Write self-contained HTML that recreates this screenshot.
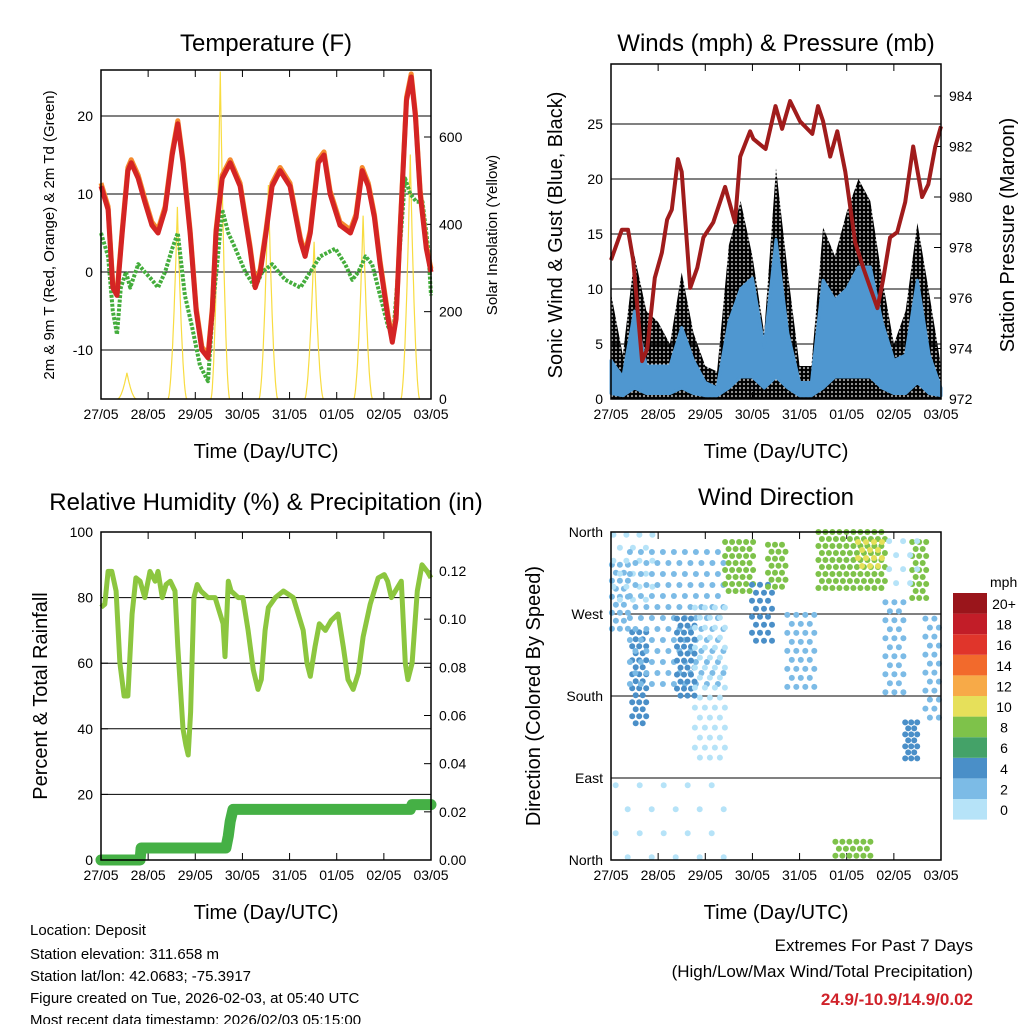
<!DOCTYPE html>
<html><head><meta charset="utf-8"><style>
body{margin:0;background:#fff;font-family:"Liberation Sans",sans-serif}
svg text{font-family:"Liberation Sans",sans-serif;fill:#000}
</style></head><body>
<svg id="s" width="1024" height="1024" xmlns="http://www.w3.org/2000/svg">
<defs><pattern id="dots" width="4" height="4" patternUnits="userSpaceOnUse"><circle cx="2" cy="2" r="2.1" fill="#000"/></pattern></defs>
<g id="p1"></g>
<g id="p2"></g>
<g id="p3"></g>
<g id="p4"></g>
<g font-size="15">
<text x="30" y="935">Location: Deposit</text>
<text x="30" y="959">Station elevation: 311.658 m</text>
<text x="30" y="981">Station lat/lon: 42.0683; -75.3917</text>
<text x="30" y="1003">Figure created on Tue, 2026-02-03, at 05:40 UTC</text>
<text x="30" y="1025">Most recent data timestamp: 2026/02/03 05:15:00</text>
</g>
<g text-anchor="end">
<text x="973" y="951" font-size="17">Extremes For Past 7 Days</text>
<text x="973" y="977" font-size="17">(High/Low/Max Wind/Total Precipitation)</text>
<text x="973" y="1005" font-size="17" font-weight="bold" style="fill:#d0222a">24.9/-10.9/14.9/0.02</text>
</g>
</svg>
<script>
// ---- data ----
const dayLabels=["27/05","28/05","29/05","30/05","31/05","01/05","02/05","03/05"];
const tempDays=[0,.15,.25,.34,.45,.57,.64,.79,.93,1.08,1.21,1.36,1.51,1.63,1.74,1.89,2.02,2.14,2.27,2.36,2.44,2.57,2.74,2.95,3.16,3.27,3.38,3.5,3.63,3.8,4.01,4.23,4.33,4.44,4.61,4.73,4.86,5.07,5.29,5.41,5.54,5.67,5.8,5.92,6.09,6.18,6.26,6.35,6.48,6.58,6.67,6.77,6.9,7];
const tempValues=[11,8,-2,-3,5,13,14,12,9,6,5,8,15,19,14,5,-5,-10,-11,-5,5,12,14,11,3,-2,0,5,11,13,11,4,2,5,14,15,10,6,5,7,13,11,7,1,-6,-9,-6,6,22,25,20,10,3,0];
const dewDays=[0,.15,.25,.34,.42,.53,.62,.79,.93,1.08,1.21,1.36,1.51,1.63,1.78,1.93,2.1,2.27,2.38,2.48,2.57,2.7,2.85,3.06,3.27,3.42,3.63,3.91,4.23,4.44,4.65,4.97,5.18,5.33,5.46,5.61,5.75,5.92,6.09,6.2,6.3,6.45,6.56,6.69,6.82,6.94,7];
const dewValues=[5,2,-5,-8,-2,0,-2,1,0,-1,-2,0,3,5,-3,-7,-12,-14,-4,2,8,5,3,0,-2,0,1,-1,-2,0,2,3,1,-1,0,2,1,-3,-7,-8,0,12,10,9,9,3,-3];
const solarNoon=[0.55,1.62,2.53,3.55,4.52,5.56,6.56];
const solarPeak=[60,440,750,490,360,420,560];
const presDays=[0,.23,.36,.47,.66,.77,.93,1.08,1.19,1.29,1.42,1.5,1.68,1.83,1.96,2.17,2.42,2.63,2.74,2.95,3.02,3.28,3.49,3.63,3.8,4.01,4.27,4.39,4.5,4.65,4.8,4.97,5.18,5.35,5.5,5.65,5.77,5.92,6.07,6.24,6.41,6.6,6.73,6.88,7];
const presValues=[977.5,978.7,978.7,977.5,973.5,974,976.8,977.8,979.1,979.5,981.5,981,976.4,977.2,978.4,979,980.4,979,981.6,982.6,982.3,981.9,983.6,982.7,983.8,983,982.5,983.6,983,981.6,982.6,981,978.2,977.2,976.4,975.6,976.7,978.4,978.6,979.8,982,980,980.5,982,982.8];
const windDays=[0,.25,.5,.75,1,1.25,1.5,1.75,2,2.25,2.5,2.75,3,3.25,3.5,3.75,4,4.25,4.5,4.75,5,5.25,5.5,5.75,6,6.25,6.5,6.75,7];
const windMin=[0.5,0.3,1,0.5,0.5,0.5,1,0.5,0.3,0.3,1,2,2,1,2,1,0.3,0.3,1,2,2,2,2,1,0.5,0.5,1.5,0.5,0.3];
const windMax=[3.5,2,8,3,3,3,6.5,3.5,1.5,1,7,10,11,4.7,14.5,6,1.5,1.5,10.8,9,10,12,12,7,3.5,4,10.8,4,1];
const gustMax=[9.6,4,13,8,7,5,11.5,6,3,2.5,14,18,13,6,21,11.5,3,3,15.6,13,17,20,18,11,5,8,16,9.6,3];
const rhDays=[0,.08,.15,.23,.32,.4,.49,.57,.66,.74,.83,.93,1.04,1.15,1.21,1.3,1.38,1.47,1.57,1.63,1.74,1.8,1.85,1.9,1.97,2.04,2.12,2.27,2.42,2.59,2.63,2.7,2.76,2.91,3.01,3.12,3.23,3.33,3.4,3.48,3.55,3.7,3.87,4.08,4.29,4.37,4.44,4.54,4.63,4.76,4.88,5.03,5.14,5.24,5.35,5.46,5.56,5.71,5.88,6.01,6.08,6.16,6.37,6.455,6.51,6.6,6.71,6.81,6.92,7];
const rhValues=[77,78,88,88,82,60,50,50,75,86,85,80,88,85,88,80,84,85,82,65,40,35,32,45,80,84,82,80,80,72,62,85,82,80,80,70,58,52,55,70,77,80,82,80,70,60,56,65,72,70,73,75,65,55,52,57,68,78,86,87,85,80,85,60,55,60,82,90,88,86];
const rainDays=[0,.83,.85,2.65,2.7,2.74,2.8,6.56,6.6,7];
const rainValues=[0,0,.005,.005,.01,.016,.021,.021,.023,.023];
const colorLevels=["0","2","4","6","8","10","12","14","16","18","20+"];
const colorList=["#b6e3f8","#7cbbe6","#4a8fc8","#44a268","#7ec24a","#e6e05a","#f7aa48","#f26a2c","#e0352b","#c21d28","#9a151b"];
// wind-direction clusters: start day, end day, dir low, dir high, speed, spacing
const clStart=[0.02,0.05,0.45,0.4,1.4,1.78,2.42,2.99,3.33,3.74,4.4,5.24,5.82,6.24,6.39,6.67,4.76,0.1,5.9];
const clEnd=[0.36,1.0,0.76,2.4,1.78,2.48,3.06,3.48,3.76,4.4,5.88,5.75,6.24,6.52,6.73,7.0,5.54,2.4,6.5];
const clDirLow=[250,277,148,184,173,112,288,239,294,184,294,320,184,108,283,148,2,2,300];
const clDirHigh=[324,357,250,338,265,277,349,302,346,269,360,349,283,151,349,265,20,82,350];
const clSpeed=[1,0,4,2,4,0,7,3,7,1,7,10,1,3,8,1,7,0,0];
const clStep=[8,13,7,11,7,10,7,8,7,9,7,8,9,6,7,9,7,24,14];

const NS="http://www.w3.org/2000/svg";
function el(p,t,a){const e=document.createElementNS(NS,t);for(const k in a)e.setAttribute(k,a[k]);p.appendChild(e);return e;}
function lin(d0,d1,r0,r1){return v=>r0+(v-d0)/(d1-d0)*(r1-r0);}
function pts(xs,ys,fx,fy){return xs.map((d,i)=>fx(d).toFixed(1)+","+fy(ys[i]).toFixed(1)).join(" ");}

function frame(g,L,T,R,B,title,ty){
  const t=el(g,"text",{x:(L+R)/2,y:ty,"font-size":24,"text-anchor":"middle"});t.textContent=title;
  
  const x=lin(0,7,L,R);
  dayLabels.forEach((d,i)=>{
    el(g,"line",{x1:x(i),x2:x(i),y1:B,y2:B-7,stroke:"#000"});el(g,"line",{x1:x(i),x2:x(i),y1:T,y2:T+7,stroke:"#000"});
    const l=el(g,"text",{x:x(i),y:B+20,"font-size":14,"text-anchor":"middle"});l.textContent=d;
    
  });
  const xl=el(g,"text",{x:(L+R)/2,y:B+59,"font-size":20,"text-anchor":"middle"});xl.textContent="Time (Day/UTC)";
  
  return x;
}
function yticks(g,L,R,fy,vals,labels,side,grid,T,B){
  vals.forEach((v,i)=>{const y=fy(v);
    if(grid&&y>T+1&&y<B-1)el(g,"line",{x1:L,x2:R,y1:y,y2:y,stroke:"#000","stroke-width":1});
    const X=side==="l"?L:R;el(g,"line",{x1:X,x2:side==="l"?X+7:X-7,y1:y,y2:y,stroke:"#000"});
    const t=el(g,"text",{x:side==="l"?L-8:R+8,y:y+5,"font-size":14,"text-anchor":side==="l"?"end":"start"});t.textContent=labels[i];
    });
}
function ytitle(g,x,y,txt,fs){const t=el(g,"text",{x:x,y:y,"font-size":fs,"text-anchor":"middle",transform:`rotate(-90 ${x} ${y})`});t.textContent=txt;
  }
function box(g,L,T,R,B){const r=el(g,"rect",{x:L,y:T,width:R-L,height:B-T,fill:"none",stroke:"#000","stroke-width":1.5});}

// Panel 1
(function(){const g=document.getElementById("p1");const L=101,T=70,R=431,B=399;
 const x=frame(g,L,T,R,B,"Temperature (F)",51);const y=lin(0,10,272,194);const ys=lin(0,600,399,137);
 yticks(g,L,R,y,[-10,0,10,20],["-10","0","10","20"],"l",true,T,B);
 yticks(g,L,R,ys,[0,200,400,600],["0","200","400","600"],"r",false,T,B);
 solarNoon.forEach((n,i)=>{let s="";for(let k=-20;k<=20;k++){const d=n+k*0.01;const f=Math.pow(Math.max(0,1-Math.abs(k)/20),1.8);s+=x(d).toFixed(1)+","+ys(solarPeak[i]*f).toFixed(1)+" ";}
  const p=el(g,"polyline",{points:s,fill:"none",stroke:"#f8dc40","stroke-width":1.2});});
 const d=el(g,"polyline",{points:pts(dewDays,dewValues,x,y),fill:"none",stroke:"#44ad3c","stroke-width":4,"stroke-dasharray":"3 1.5","stroke-linejoin":"round"});
 
 const o=el(g,"polyline",{points:pts(tempDays,tempValues.map(v=>v+0.4),x,y),fill:"none",stroke:"#f58a2e","stroke-width":5,"stroke-linejoin":"round"});
 
 const r=el(g,"polyline",{points:pts(tempDays,tempValues,x,y),fill:"none",stroke:"#d42424","stroke-width":5,"stroke-linejoin":"round"});
 
 box(g,L,T,R,B);
 ytitle(g,54,235,"2m & 9m T (Red, Orange) & 2m Td (Green)",15);ytitle(g,497,235,"Solar Insolation (Yellow)",15);})();

// Panel 2
(function(){const g=document.getElementById("p2");const L=611,T=64,R=941,B=399;
 const x=frame(g,L,T,R,B,"Winds (mph) & Pressure (mb)",51);const y=lin(0,25,399,124);const yp=lin(972,984,399,96);
 yticks(g,L,R,y,[0,5,10,15,20,25],["0","5","10","15","20","25"],"l",true,T,B);
 yticks(g,L,R,yp,[972,974,976,978,980,982,984],["972","974","976","978","980","982","984"],"r",false,T,B);
 const top=pts(windDays,gustMax,x,y);const bk=el(g,"polygon",{points:x(0)+","+y(0)+" "+top+" "+x(7)+","+y(0),fill:"url(#dots)"});
 
 const band=pts(windDays,windMax,x,y)+" "+pts(windDays.slice().reverse(),windMin.slice().reverse(),x,y);
 const bl=el(g,"polygon",{points:band,fill:"#4f97d0",stroke:"#4f97d0","stroke-width":3,"stroke-linejoin":"round"});
 const p=el(g,"polyline",{points:pts(presDays,presValues,x,yp),fill:"none",stroke:"#a01c1c","stroke-width":4,"stroke-linejoin":"round"});
 
 box(g,L,T,R,B);ytitle(g,562,235,"Sonic Wind & Gust (Blue, Black)",20);ytitle(g,1014,235,"Station Pressure (Maroon)",20);})();

// Panel 3
(function(){const g=document.getElementById("p3");const L=101,T=532,R=431,B=860;
 const x=frame(g,L,T,R,B,"Relative Humidity (%) & Precipitation (in)",510);const y=lin(0,100,860,532);const yr=lin(0,0.12,860,571);
 yticks(g,L,R,y,[0,20,40,60,80,100],["0","20","40","60","80","100"],"l",true,T,B);
 yticks(g,L,R,yr,[0,.02,.04,.06,.08,.10,.12],["0.00","0.02","0.04","0.06","0.08","0.10","0.12"],"r",false,T,B);
 const h=el(g,"polyline",{points:pts(rhDays,rhValues,x,y),fill:"none",stroke:"#8cc63f","stroke-width":5,"stroke-linejoin":"round"});
 
 const r=el(g,"polyline",{points:pts(rainDays,rainValues,x,yr),fill:"none",stroke:"#45b045","stroke-width":11,"stroke-linejoin":"round","stroke-linecap":"round"});
 
 box(g,L,T,R,B);ytitle(g,47,696,"Percent & Total Rainfall",20);})();

// Panel 4
(function(){const g=document.getElementById("p4");const L=611,T=532,R=941,B=860;
 const x=frame(g,L,T,R,B,"Wind Direction",505);const y=lin(0,360,860,532);
 yticks(g,L,R,y,[0,90,180,270,360],["North","East","South","West","North"],"l",true,T,B);
 clStart.forEach((s,i)=>{const ci=Math.min(10,Math.round(clSpeed[i]/2));const st=clStep[i];const x0=x(s),x1=x(clEnd[i]),y0=y(clDirHigh[i]),y1=y(clDirLow[i]);
  let row=0;for(let yy=y0;yy<=y1;yy+=st,row++){for(let xx=x0+(row%2)*st/2;xx<=x1;xx+=st){
   const c=el(g,"circle",{cx:xx.toFixed(1),cy:yy.toFixed(1),r:3,fill:colorList[ci]});
   }}});
 box(g,L,T,R,B);ytitle(g,540,696,"Direction (Colored By Speed)",20);
 const u=el(g,"text",{x:990,y:587,"font-size":14}); u.textContent="mph";
 colorList.forEach((c,i)=>{const yy=799-i*20.6;
  const r=el(g,"rect",{x:953,y:yy,width:34,height:20.6,fill:c});
  const t=el(g,"text",{x:1004,y:yy+16,"font-size":14,"text-anchor":"middle"});t.textContent=colorLevels[i];});})();
</script>
</body></html>
